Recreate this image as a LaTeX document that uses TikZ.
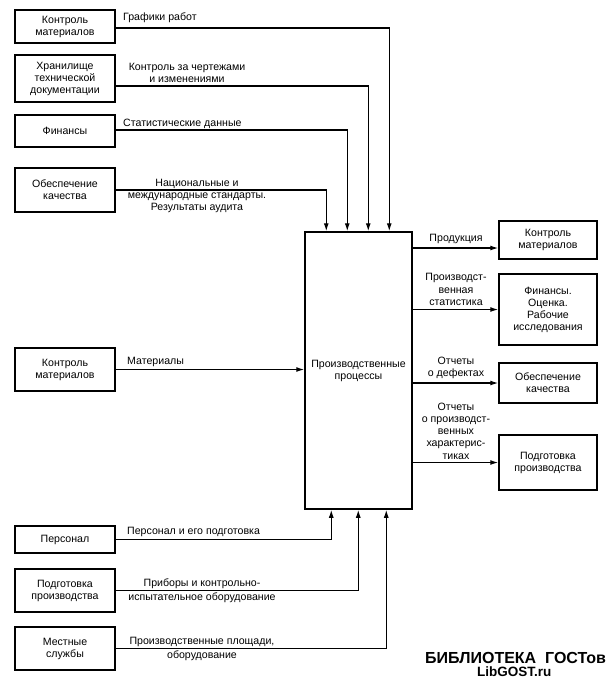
\documentclass[tikz,border=0pt]{standalone}
\usepackage{fontspec}
\setmainfont{Liberation Sans}
\usetikzlibrary{arrows.meta}
\begin{document}
\begin{tikzpicture}[x=1pt,y=-1pt,
  box/.style={draw,line width=1.5pt,minimum width=100pt,inner sep=1pt,align=center,font=\fontsize{10.6}{12}\selectfont},
  rbox/.style={box,minimum width=98pt},
  arr/.style={line width=1.2pt,-{Latex[length=8pt,width=5pt]}},
  lbl/.style={inner sep=0pt,font=\fontsize{10.6}{12.2}\selectfont,align=center}]
\useasboundingbox (0,0) rectangle (616,681);
% left boxes
\node[box,minimum height=33pt] (L1) at (65,26.5) {Контроль\\материалов};
\node[box,minimum height=47pt] (L2) at (65,78.5) {Хранилище\\технической\\документации};
\node[box,minimum height=32pt] (L3) at (65,131) {Финансы};
\node[box,minimum height=44pt] (L4) at (65,190) {Обеспечение\\качества};
\node[box,minimum height=43pt] (L5) at (65,369.5) {Контроль\\материалов};
\node[box,minimum height=27pt] (L6) at (65,539.5) {Персонал};
\node[box,minimum height=43pt] (L7) at (65,590.5) {Подготовка\\производства};
\node[box,minimum height=43pt] (L8) at (65,648.5) {Местные\\службы};
% main
\node[box,minimum width=107pt,minimum height=277pt] (M) at (358.5,370.5) {Производственные\\процессы};
% right boxes
\node[rbox,minimum height=38pt] (R1) at (548,240) {Контроль\\материалов};
\node[rbox,minimum height=71pt] (R2) at (548,309.5) {Финансы.\\Оценка.\\Рабочие\\исследования};
\node[rbox,minimum height=40pt] (R3) at (548,383) {Обеспечение\\качества};
\node[rbox,minimum height=55pt] (R4) at (548,462.5) {Подготовка\\производства};
% top controls
\draw[arr] ([yshift=-1.5pt]L1.east) -| ([xshift=85pt]M.north west);
\draw[arr] ([yshift=-7.5pt]L2.east) -| ([xshift=64pt]M.north west);
\draw[arr] ([yshift=1pt]L3.east) -| ([xshift=43pt]M.north west);
\draw[arr] (L4.east) -| ([xshift=22pt]M.north west);
% input
\draw[arr] (L5.east) -- (L5.east -| M.west);
% mechanisms
\draw[arr] (L6.east) -| ([xshift=27pt]M.south west);
\draw[arr] (L7.east) -| ([xshift=54pt]M.south west);
\draw[arr] (L8.east) -| ([xshift=82pt]M.south west);
% outputs
\draw[arr] ([yshift=-8pt]R1.west -| M.east) -- ([yshift=-8pt]R1.west);
\draw[arr] (R2.west -| M.east) -- (R2.west);
\draw[arr] (R3.west -| M.east) -- (R3.west);
\draw[arr] (R4.west -| M.east) -- (R4.west);
% labels
\node[lbl,anchor=west] (t1) at (123,18) {Графики работ};
\node[lbl] (t2) at (187,72.5) {Контроль за чертежами\\и изменениями};
\node[lbl,anchor=west] (t3) at (123,124) {Статистические данные};
\node[lbl] (t4) at (197,196) {Национальные и\\международные стандарты.\\Результаты аудита};
\node[lbl,anchor=west] (t5) at (127,362) {Материалы};
\node[lbl,anchor=west] (t6) at (127,532) {Персонал и его подготовка};
\node[lbl] (t7) at (202,591) {Приборы и контрольно-\\[2pt]испытательное оборудование};
\node[lbl] (t8) at (202,649) {Производственные площади,\\[1pt]оборудование};
\node[lbl] (o1) at (456,239) {Продукция};
\node[lbl] (o2) at (456,289.5) {Производст-\\венная\\статистика};
\node[lbl] (o3) at (456,367.5) {Отчеты\\о дефектах};
\node[lbl] (o4) at (456,431) {Отчеты\\о производст-\\венных\\характерис-\\тиках};
% watermark
\node[inner sep=0pt,anchor=west,font=\bfseries\fontsize{16}{16}\selectfont] (w1) at (425,658) {БИБЛИОТЕКА\ \ ГОСТов};
\node[inner sep=0pt,anchor=west,font=\bfseries\fontsize{13.5}{14}\selectfont] (w2) at (477,672) {LibGOST.ru};
\end{tikzpicture}
\end{document}
